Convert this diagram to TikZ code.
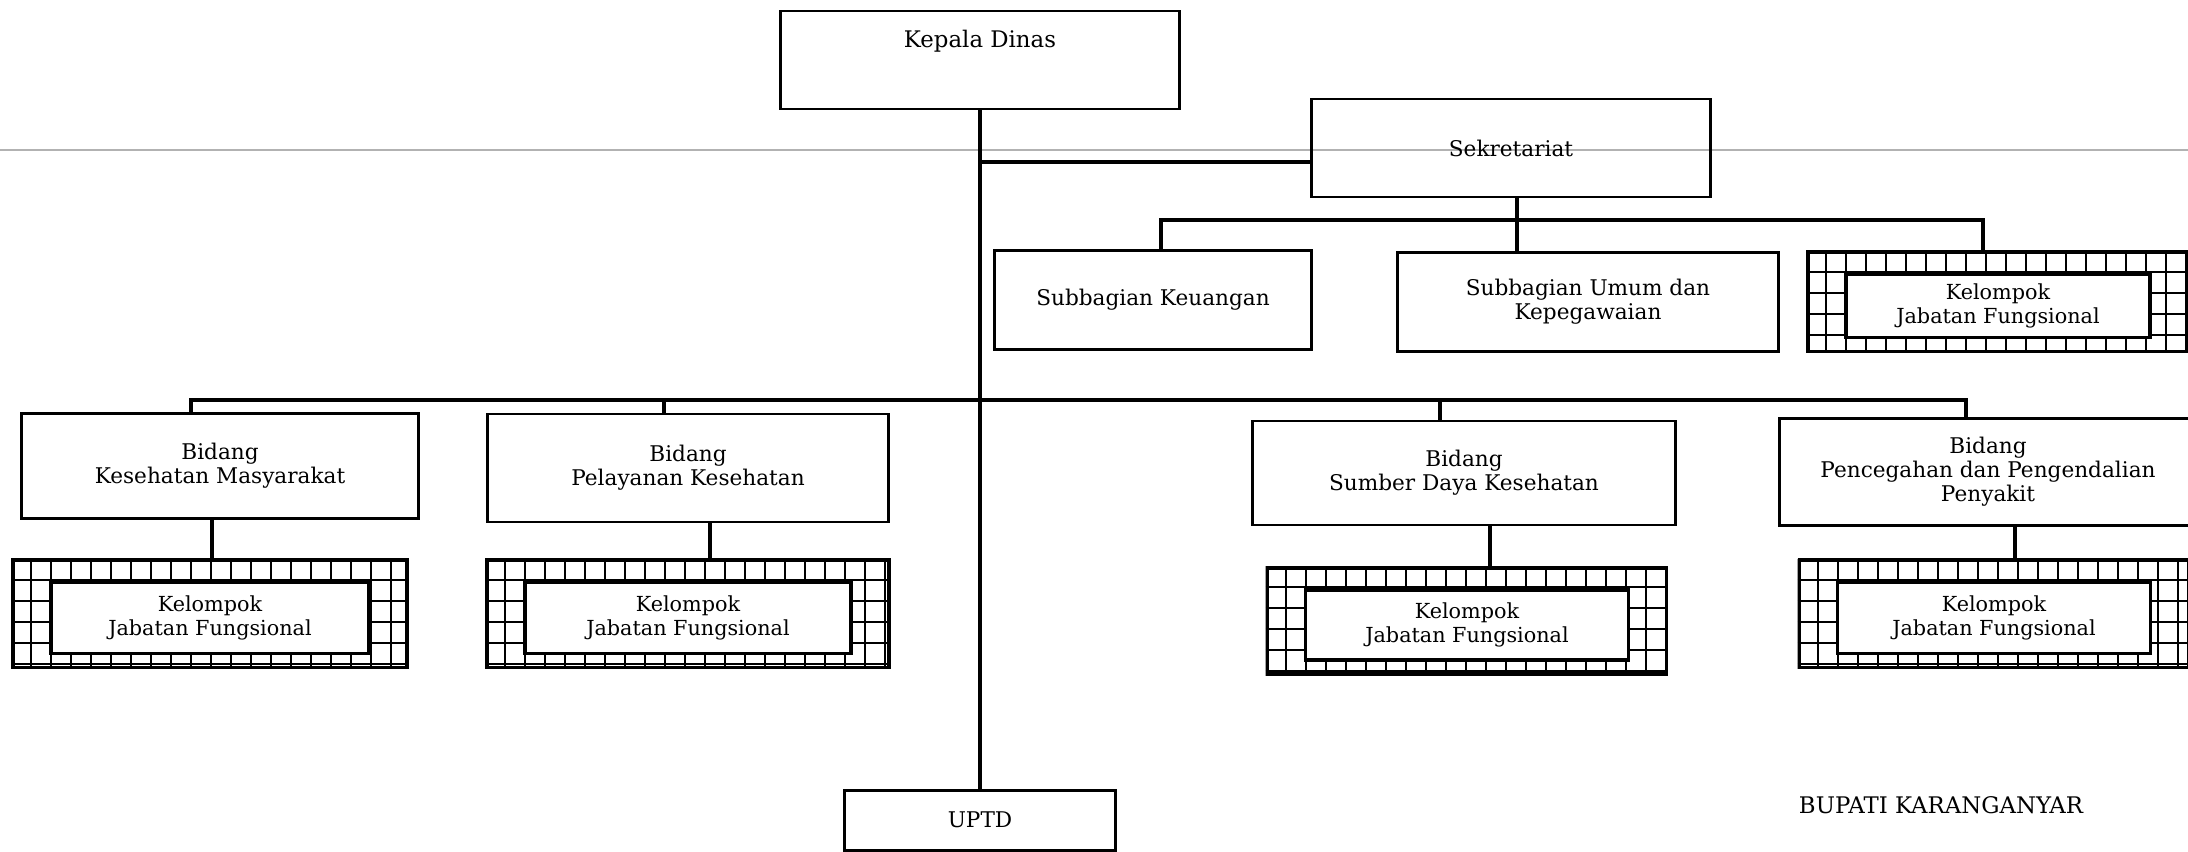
\documentclass[tikz,border=0pt]{standalone}
\usepackage{fontspec}
\setmainfont{DejaVu Serif}
\def\pu{0.02cm}
% hatched box: name, x, y, outer width, outer height
\newcommand{\kelompok}[5]{%
  \node[kjfout, minimum width=#4*\pu, minimum height=#5*\pu] (#1o) at (#2,#3) {};
  \begin{scope}
    \clip (#1o.south west) rectangle (#1o.north east);
    \foreach \gx in {0,20,...,440}
      \draw[kjfgrid] ([xshift=\gx*\pu]#1o.north west) -- ([xshift=\gx*\pu]#1o.south west);
    \foreach \gy in {0,21,...,126}
      \draw[kjfgrid] ([yshift=-\gy*\pu]#1o.north west) -- ([yshift=-\gy*\pu]#1o.north east);
  \end{scope}
  \node[kjfin, minimum width=(#4-76)*\pu, minimum height=(#5-36)*\pu] (#1) at ([yshift=-4*\pu]#1o.center) {Kelompok\\Jabatan Fungsional};
}

\begin{document}
\begin{tikzpicture}[x=\pu, y=-\pu,
    box/.style={draw, line width=1.7pt, align=center, inner sep=0pt,
      font=\fontsize{12.3}{13.6}\selectfont},
    link/.style={line width=1.8pt},
    kjfout/.style={draw, line width=2.2pt, inner sep=0pt},
    kjfgrid/.style={line width=1.1pt},
    kjfin/.style={draw, fill=white, line width=1.8pt, align=center, inner sep=0pt,
      font=\fontsize{11.8}{13.6}\selectfont},
    fold/.style={gray!60, line width=0.7pt}]
    \useasboundingbox (0,0) rectangle (2188,852);
    \draw[fold] (0,150) -- (2188,150);

    % top
    \node[box, minimum width=399*\pu, minimum height=98*\pu, text depth=0.84cm,
      font=\fontsize{13}{15}\selectfont] (kd) at (980,60) {Kepala Dinas};
    \node[box, minimum width=399*\pu, minimum height=98*\pu] (sek) at (1511,148) {Sekretariat};
    \node[box, minimum width=317*\pu, minimum height=99*\pu] (sk) at (1153,300) {Subbagian Keuangan};
    \node[box, minimum width=381*\pu, minimum height=99*\pu] (su) at (1588,302) {Subbagian Umum dan\\Kepegawaian};
    \kelompok{kjfsek}{1998}{302}{380}{99}

    % bidang
    \node[box, minimum width=397*\pu, minimum height=105*\pu] (bkm) at (220,466) {Bidang\\Kesehatan Masyarakat};
    \node[box, minimum width=401*\pu, minimum height=108*\pu] (bpk) at (688,468) {Bidang\\Pelayanan Kesehatan};
    \node[box, minimum width=423*\pu, minimum height=104*\pu] (bsdk) at (1464,473) {Bidang\\Sumber Daya Kesehatan};
    \node[box, minimum width=418*\pu, minimum height=107*\pu] (bppp) at (1988,472) {Bidang\\Pencegahan dan Pengendalian\\Penyakit};

    \kelompok{kjfkm}{210}{614}{394}{107}
    \kelompok{kjfpk}{688}{614}{402}{107}
    \kelompok{kjfsdk}{1467}{621}{399}{106}
    \kelompok{kjfppp}{1994}{614}{389}{107}

    \node[box, minimum width=271*\pu, minimum height=60*\pu] (uptd) at (980,820) {UPTD};
    \node[font=\fontsize{13}{15}\selectfont] (bupati) at (1941,805) {BUPATI KARANGANYAR};

    % lines
    \draw[link] (kd.south) -- (uptd.north);
    \coordinate (jsek) at (980,162);
    \draw[link] (jsek) -- (jsek -| sek.west);
    \coordinate (xsu) at (1517,0);
    \draw[link] (xsu |- sek.south) -- (xsu |- su.north);
    \coordinate (sbl) at (1161,220);
    \coordinate (sbr) at (1983,220);
    \draw[link] (sbl |- sk.north) -- (sbl) -- (sbr) -- (sbr |- kjfseko.north);

    \coordinate (mbl) at (191,400);
    \coordinate (mb2) at (664,400);
    \coordinate (mb3) at (1440,400);
    \coordinate (mbr) at (1966,400);
    \draw[link] (mbl |- bkm.north) -- (mbl) -- (mbr) -- (mbr |- bppp.north);
    \draw[link] (mb2) -- (mb2 |- bpk.north);
    \draw[link] (mb3) -- (mb3 |- bsdk.north);

    \coordinate (xkm) at (212,0);
    \coordinate (xpk) at (710,0);
    \coordinate (xsdk) at (1490,0);
    \coordinate (xppp) at (2015,0);
    \draw[link] (xkm |- bkm.south) -- (xkm |- kjfkmo.north);
    \draw[link] (xpk |- bpk.south) -- (xpk |- kjfpko.north);
    \draw[link] (xsdk |- bsdk.south) -- (xsdk |- kjfsdko.north);
    \draw[link] (xppp |- bppp.south) -- (xppp |- kjfpppo.north);
\end{tikzpicture}
\end{document}
